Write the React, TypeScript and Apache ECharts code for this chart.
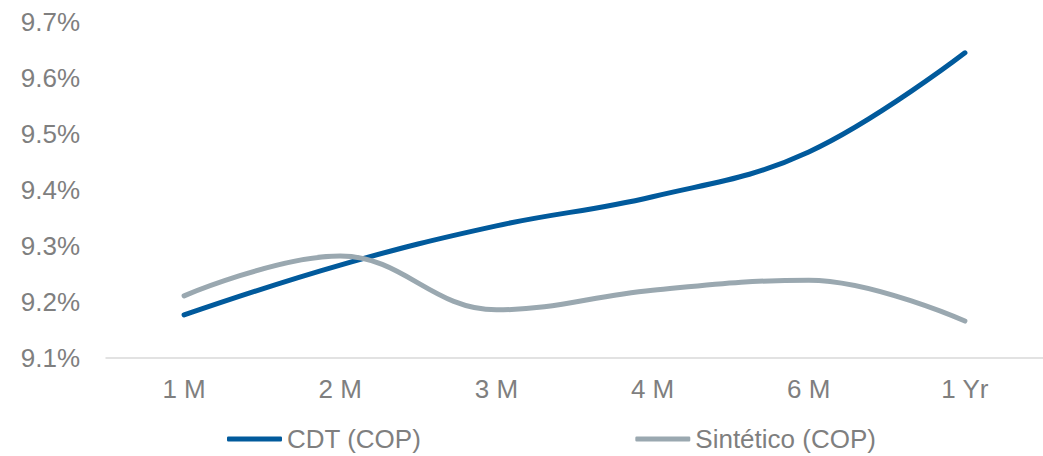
import React, { useEffect, useRef } from "react";
import * as echarts from "echarts";

const categories = ["1 M", "2 M", "3 M", "4 M", "6 M", "1 Yr"];
const cdtValues = [9.177, 9.266, 9.336, 9.388, 9.468, 9.645];
const sinteticoValues = [9.211, 9.282, 9.186, 9.221, 9.239, 9.166];
const seriesNames = ["CDT (COP)", "Sintético (COP)"];

const FONT = "'Liberation Sans', Arial, sans-serif";
const GRAY = "#7f7f7f";

export default function App() {
  const ref = useRef<HTMLDivElement>(null);
  useEffect(() => {
    if (!ref.current) return;
    const chart = echarts.init(ref.current, null, { renderer: "svg" });
    chart.setOption({
      animation: false,
      backgroundColor: "#ffffff",
      grid: { left: 106, top: 22, width: 948, height: 336, containLabel: false },
      legend: {
        left: 227,
        top: 424,
        itemGap: 214,
        itemWidth: 55,
        itemHeight: 5,
        icon: "roundRect",
        padding: 0,
        textStyle: { fontFamily: FONT, fontSize: 26, color: GRAY, lineHeight: 30 },
        data: seriesNames,
      },
      xAxis: {
        type: "category",
        data: categories,
        boundaryGap: true,
        axisLine: { show: true, lineStyle: { color: "#d9d9d9", width: 1.5 } },
        axisTick: { show: false },
        axisLabel: { fontFamily: FONT, fontSize: 26, color: GRAY, margin: 18 },
      },
      yAxis: {
        type: "value",
        min: 9.1,
        max: 9.7,
        interval: 0.1,
        splitLine: { show: false },
        axisLine: { show: false },
        axisTick: { show: false },
        axisLabel: {
          fontFamily: FONT,
          fontSize: 26,
          color: GRAY,
          margin: 26,
          formatter: (v: number) => v.toFixed(1) + "%",
        },
      },
      series: [
        {
          name: seriesNames[0],
          type: "line",
          data: cdtValues,
          smooth: 0.4,
          showSymbol: false,
          symbol: "none",
          itemStyle: { color: "#015a9c" },
          lineStyle: { color: "#015a9c", width: 5, cap: "round" },
        },
        {
          name: seriesNames[1],
          type: "line",
          data: sinteticoValues,
          smooth: 0.4,
          showSymbol: false,
          symbol: "none",
          itemStyle: { color: "#9aa8b0" },
          lineStyle: { color: "#9aa8b0", width: 5, cap: "round" },
        },
      ],
    });
    return () => chart.dispose();
  }, []);
  return (
    <div
      style={{
        position: "fixed",
        left: 0,
        top: 0,
        width: 1043,
        height: 456,
        overflow: "hidden",
        background: "#fff",
      }}
    >
      <div ref={ref} style={{ width: 1043, height: 456 }} />
    </div>
  );
}
